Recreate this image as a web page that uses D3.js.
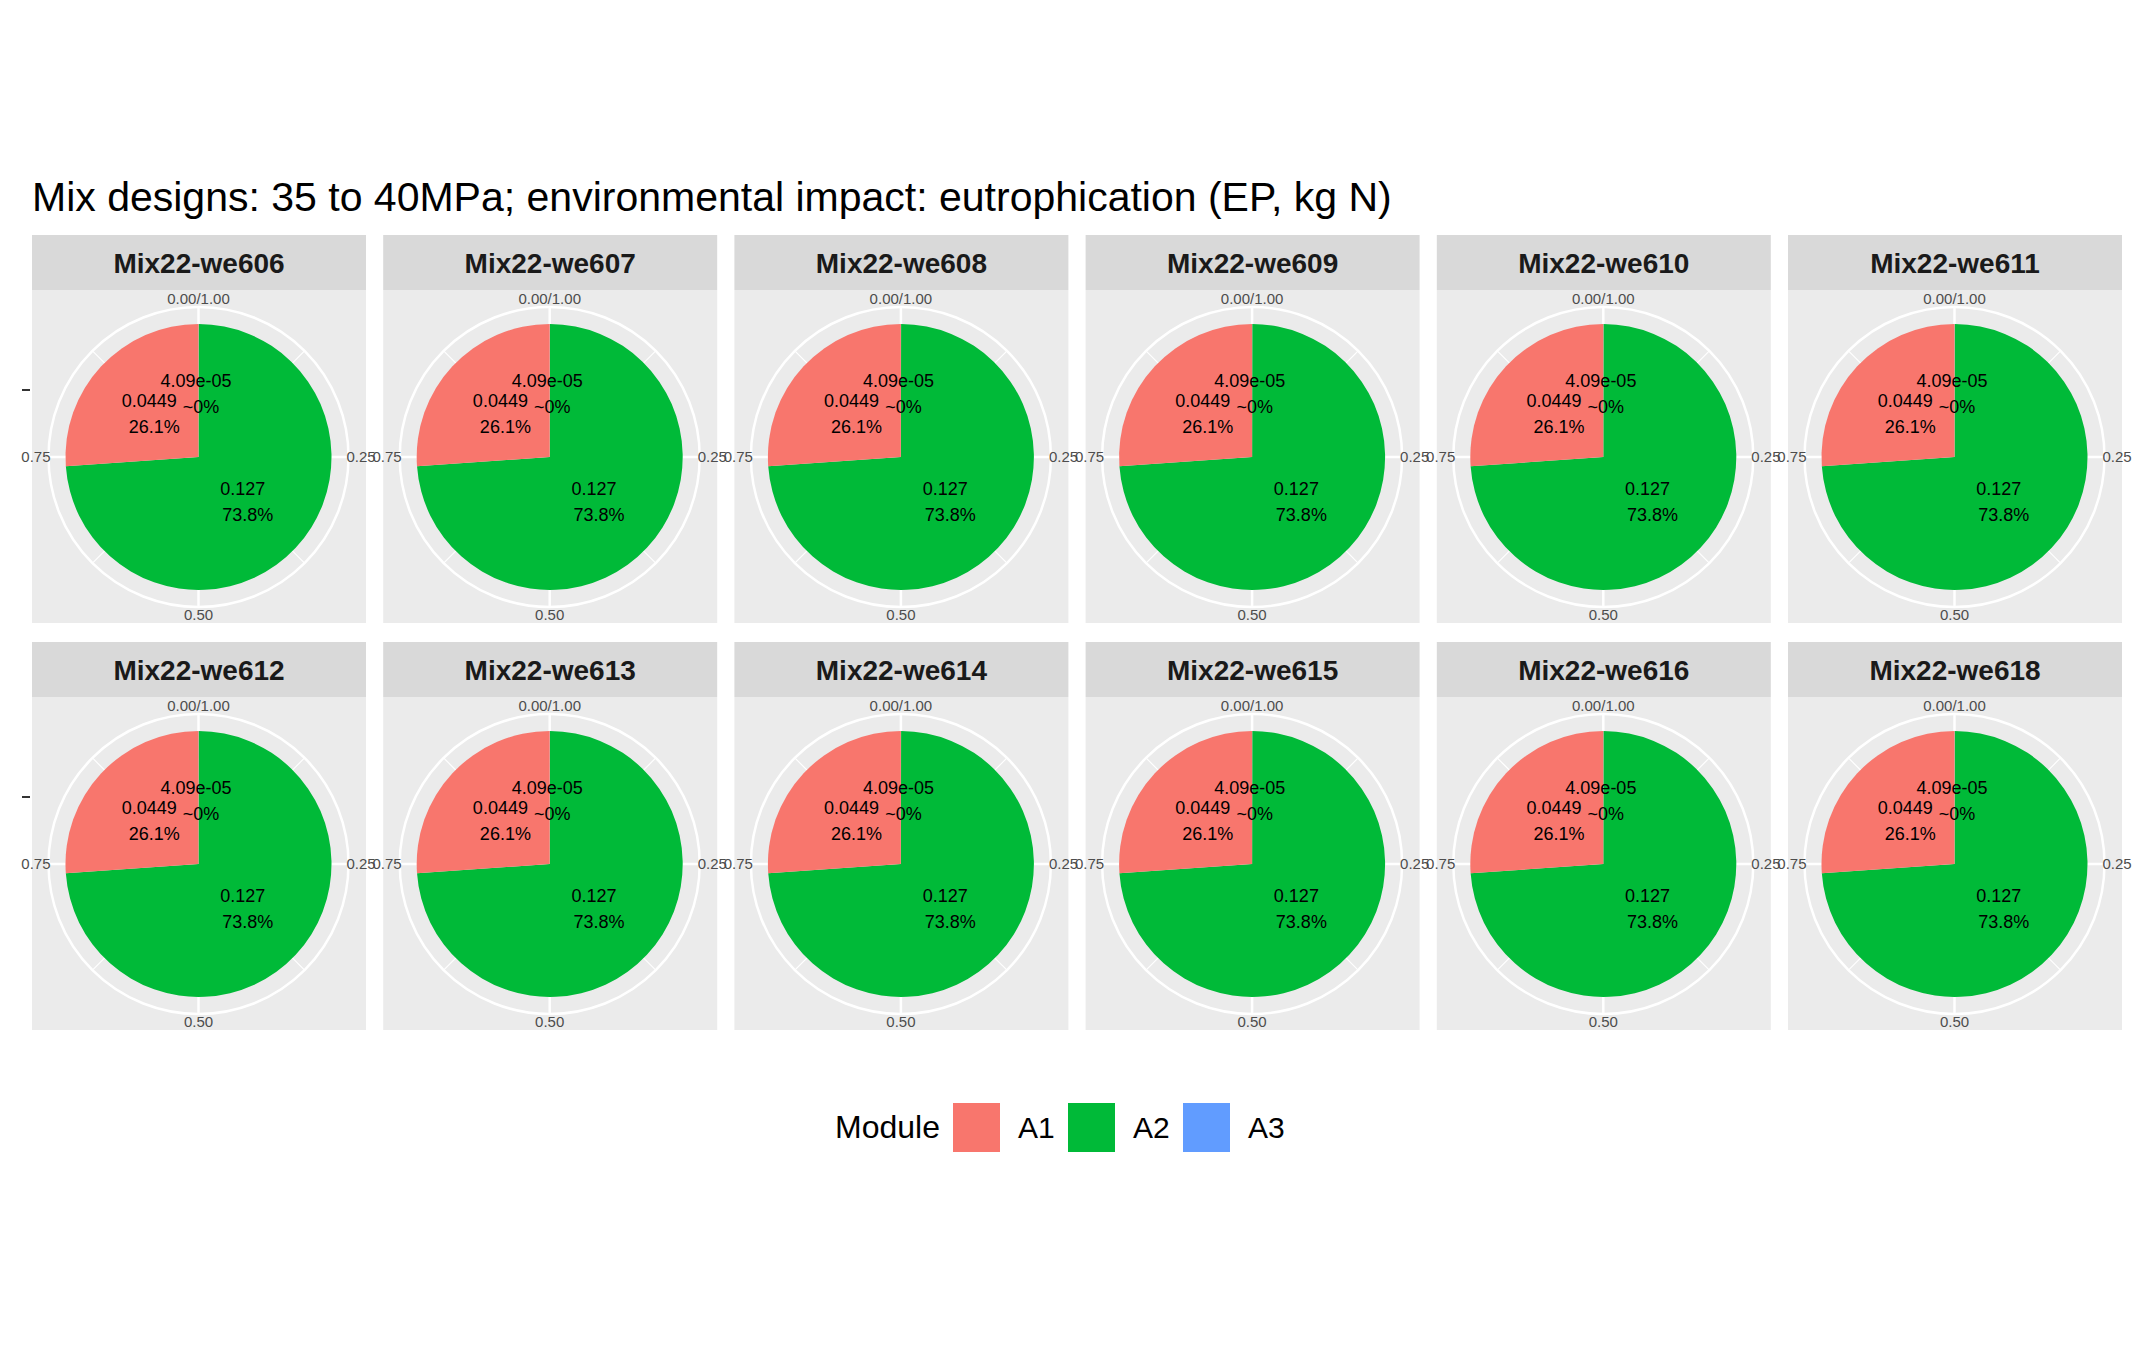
<!DOCTYPE html>
<html>
<head>
<meta charset="utf-8">
<script src="https://cdn.jsdelivr.net/npm/d3@7"></script>
<style>
  body { margin: 0; background: #fff; }
  text { font-family: Arial, "Liberation Sans", sans-serif; }
</style>
</head>
<body>
<script>
// one facet per mix design, same module split in all
const mixes = ['Mix22-we606', 'Mix22-we607', 'Mix22-we608', 'Mix22-we609', 'Mix22-we610', 'Mix22-we611',
  'Mix22-we612', 'Mix22-we613', 'Mix22-we614', 'Mix22-we615', 'Mix22-we616', 'Mix22-we618'];
const modules = ['A1', 'A2', 'A3'];
const values = [0.0449, 0.127, 4.09e-05];
const valueLabels = ['0.0449', '0.127', '4.09e-05'];
const pctLabels = ['26.1%', '73.8%', '~0%'];
const colors = ['#F8766D', '#00BA38', '#619CFF'];
const thetaTicks = [0, 0.25, 0.5, 0.75];
const thetaTickLabels = ['0.00/1.00', '0.25', '0.50', '0.75'];

const W = 2137, H = 1350;
const svg = d3.select('body').append('svg').attr('width', W).attr('height', H);

svg.append('text').attr('x', 32).attr('y', 211).attr('font-size', 41)
  .text('Mix designs: 35 to 40MPa; environmental impact: eutrophication (EP, kg N)');

const panelW = 334, stripH = 55, bodyH = 333, colStep = 351.2;
const rowTop = [235, 642];
const R = 133, ringR = 150;

// stack order as ggplot draws it: A3 first at top, then A2, then A1 clockwise
const order = [2, 1, 0];
const pie = d3.pie().sort(null).value(i => values[i]);
const arcs = pie(order);
const arc = d3.arc().innerRadius(0).outerRadius(R);
const total = d3.sum(values);
const theta = d3.scaleLinear().domain([0, 1]).range([0, 2 * Math.PI]);

mixes.forEach((m, k) => {
  const col = k % 6, row = Math.floor(k / 6);
  const x0 = 32 + col * colStep, y0 = rowTop[row];
  const g = svg.append('g').attr('transform', `translate(${x0},${y0})`);
  g.append('rect').attr('width', panelW).attr('height', stripH).attr('fill', '#D9D9D9');
  g.append('text').attr('x', panelW / 2).attr('y', stripH / 2 + 10).attr('text-anchor', 'middle')
    .attr('font-size', 28).attr('font-weight', 'bold').attr('fill', '#1a1a1a').text(m);
  g.append('rect').attr('y', stripH).attr('width', panelW).attr('height', bodyH).attr('fill', '#EBEBEB');

  const c = g.append('g').attr('transform', `translate(${panelW / 2 - 0.5},${stripH + bodyH / 2 + 0.5})`);
  // angular grid
  d3.range(0, 1, 0.125).forEach(t => {
    const a = theta(t);
    c.append('line').attr('x1', 0).attr('y1', 0)
      .attr('x2', ringR * Math.sin(a)).attr('y2', -ringR * Math.cos(a))
      .attr('stroke', '#fff').attr('stroke-width', t % 0.25 === 0 ? 2.5 : 1.2);
  });
  c.append('circle').attr('r', ringR).attr('fill', 'none').attr('stroke', '#fff').attr('stroke-width', 2.5);

  c.selectAll('path.slice').data(arcs).enter().append('path')
    .attr('d', arc).attr('fill', d => colors[d.data]);

  // theta tick labels
  thetaTicks.forEach((t, i) => {
    const a = theta(t), rr = ringR + 10;
    const tx = rr * Math.sin(a), ty = -rr * Math.cos(a);
    c.append('text').attr('x', t === 0.25 ? tx - 12 : (t === 0.75 ? tx + 12 : tx))
      .attr('y', ty + 5 + (t === 0 ? 2 : 0) - (t === 0.5 ? 2 : 0))
      .attr('text-anchor', t === 0.25 ? 'start' : (t === 0.75 ? 'end' : 'middle'))
      .attr('font-size', 15).attr('fill', '#4D4D4D').text(thetaTickLabels[i]);
  });

  // value labels at half radius of each slice
  arcs.forEach(d => {
    const i = d.data;
    const mid = (d.startAngle + d.endAngle) / 2, rr = 64;
    const lx = rr * Math.sin(mid), ly = -rr * Math.cos(mid);
    const t = c.append('text').attr('text-anchor', 'middle').attr('font-size', 18)
      .style('white-space', 'pre').attr('fill', '#000');
    t.append('tspan').attr('x', lx).attr('y', ly - 6).text(valueLabels[i] + ' ');
    t.append('tspan').attr('x', lx).attr('y', ly + 20).text(' ' + pctLabels[i]);
  });

  if (col === 0) {
    svg.append('line').attr('x1', 22).attr('x2', 30)
      .attr('y1', y0 + stripH + 100).attr('y2', y0 + stripH + 100)
      .attr('stroke', '#333').attr('stroke-width', 2);
  }
});

// legend
const lg = svg.append('g').attr('transform', 'translate(0,1127)');
lg.append('text').attr('x', 835).attr('y', 11).attr('font-size', 32).text('Module');
modules.forEach((m, i) => {
  const x = 953 + i * 115;
  lg.append('rect').attr('x', x).attr('y', -24).attr('width', 47).attr('height', 49).attr('fill', colors[i]);
  lg.append('text').attr('x', x + 65).attr('y', 11).attr('font-size', 30).text(m);
});
</script>
</body>
</html>
